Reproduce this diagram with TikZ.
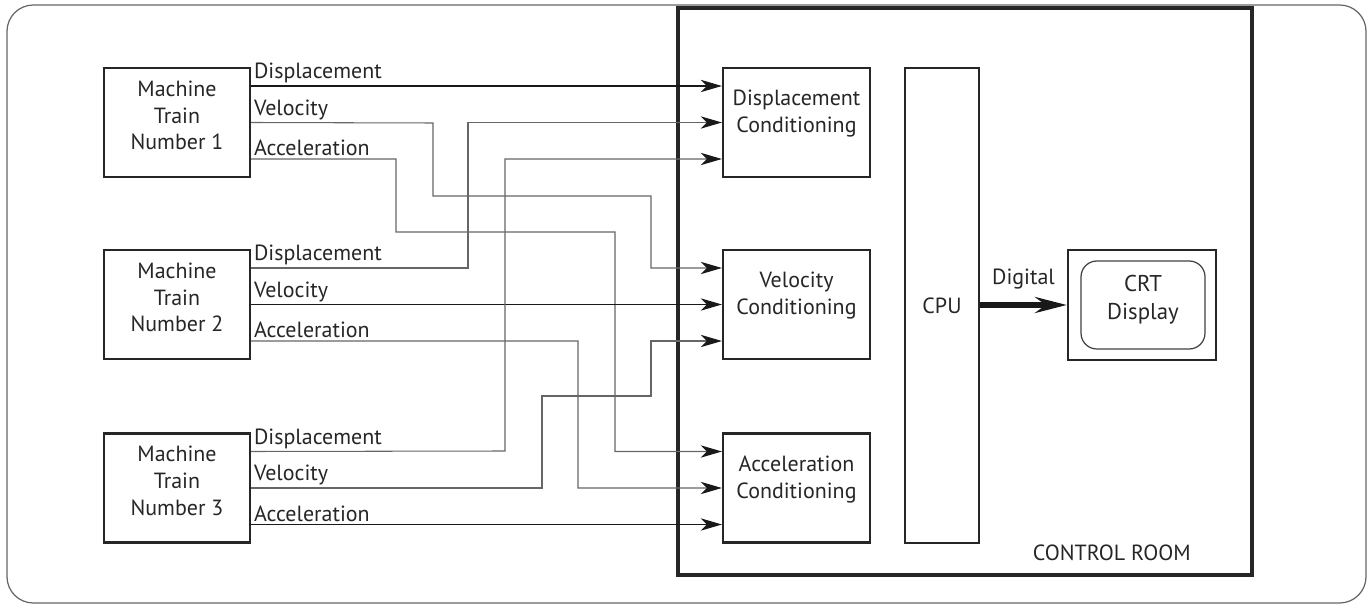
\documentclass[tikz,border=0pt]{standalone}
\usepackage{fontspec}
\setmainfont{PT Sans}
\usetikzlibrary{arrows.meta,calc}
\begin{document}
\begin{tikzpicture}[x=0.02cm,y=-0.02cm,
  box/.style={draw=black!85,line width=1.3pt,inner sep=0pt},
  txt/.style={align=center,font=\fontsize{12.5}{15.3}\selectfont,text=black!85},
  lbl/.style={anchor=south west,inner sep=1.5pt,font=\fontsize{12.5}{14}\selectfont,text=black!85},
  sig/.style={line width=0.6pt,draw=black!90,-{Stealth[length=12pt,width=7pt,inset=3.5pt,color=black!90]}},
  rsig/.style={sig,draw=black!60}]
\useasboundingbox (0,0) rectangle (1371,607);
\draw[black!60,line width=0.7pt,rounded corners=15pt] (7,5) rectangle (1366,603);
\draw[black!85,line width=2.4pt] (678,8) rectangle (1252,575);
\node[anchor=south east,inner sep=0pt,font=\fontsize{12.5}{14}\selectfont,text=black!85] (cr) at (1191,561) {CONTROL ROOM};
% machine trains
\foreach \i/\y in {1/122.5,2/304.5,3/488}{
  \node[box,minimum width=2.92cm,minimum height=2.18cm,
    label={[txt,yshift=4pt]center:Machine\\Train\\Number \i}] (m\i) at (177,\y) {};
  \coordinate (m\i d) at ($(m\i.east)+(0,-36.5)$);
  \coordinate (m\i v) at ($(m\i.east)+(0,0)$);
  \coordinate (m\i a) at ($(m\i.east)+(0,36.5)$);
  \node[lbl] at (m\i d) {Displacement};
  \node[lbl] at (m\i v) {Velocity};
  \node[lbl] at (m\i a) {Acceleration};
}
% conditioning
\foreach \c/\y/\t in {dc/122.5/Displacement,vc/304.5/Velocity,ac/488/Acceleration}{
  \node[box,minimum width=2.94cm,minimum height=2.18cm,
    label={[txt,yshift=5pt]center:\t\\Conditioning}] (\c) at (796.5,\y) {};
  \coordinate (\c1) at ($(\c.west)+(0,-36.5)$);
  \coordinate (\c2) at ($(\c.west)+(0,0)$);
  \coordinate (\c3) at ($(\c.west)+(0,36.5)$);
}
\node[box,minimum width=1.48cm,minimum height=9.5cm,txt] (cpu) at (942,305.5) {CPU};
\node[box,minimum width=2.96cm,minimum height=2.2cm] (crt) at (1142,305) {};
\node[box,rounded corners=9pt,draw=black!75,line width=0.7pt,minimum width=2.48cm,minimum height=1.76cm,
  label={[txt,yshift=3pt,font=\fontsize{13}{15.5}\selectfont]center:CRT\\Display}] (crtin) at (1143,305) {};
\draw[line width=3.4pt,black!90,-{Stealth[length=18pt,width=9pt,inset=6pt]}] (cpu.east |- crt.west) -- node[above=4pt,txt] {Digital} (crt.west);
% signals
\draw[sig] (m1d) -- (dc1);
\draw[rsig] (m1v) -- (433,123) |- (651,196) |- (vc1);
\draw[rsig] (m1a) -- (396,159) |- (615,232) |- (ac1);
\draw[rsig] (m2d) -- (468,268) |- (dc2);
\draw[sig] (m2v) -- (vc2);
\draw[rsig] (m2a) -- (578,341) |- (ac2);
\draw[rsig] (m3d) -- (505,451) |- (dc3);
\draw[rsig] (m3v) -- (542,488) |- (651,396) |- (vc3);
\draw[sig] (m3a) -- (ac3);
\end{tikzpicture}
\end{document}
